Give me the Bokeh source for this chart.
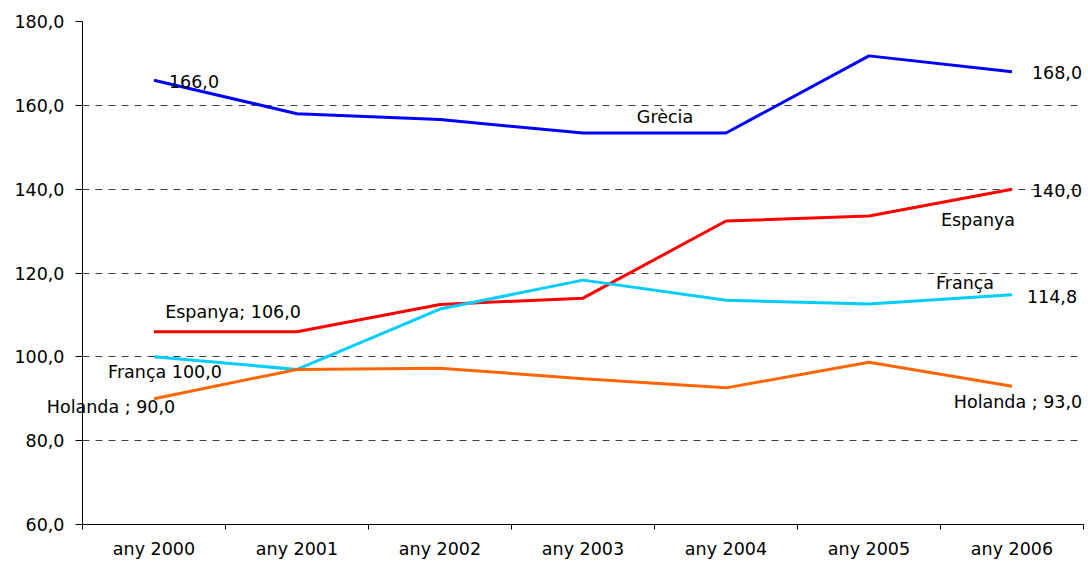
from bokeh.plotting import figure
from bokeh.models import Range1d, FixedTicker
from bokeh.core.properties import value
from bokeh.embed import file_html
from bokeh.resources import INLINE

years = ["any 2000", "any 2001", "any 2002", "any 2003", "any 2004", "any 2005", "any 2006"]
grecia = [166.0, 158.0, 156.6, 153.4, 153.4, 171.8, 168.0]
espanya = [106.0, 106.0, 112.5, 114.0, 132.4, 133.6, 140.0]
franca = [100.0, 97.0, 111.4, 118.3, 113.5, 112.6, 114.8]
holanda = [90.0, 97.0, 97.3, 94.8, 92.6, 98.7, 93.0]
y_ticks = [60, 80, 100, 120, 140, 160, 180]

FONT = "DejaVu Sans"
FS = "17.5px"

xs = [i + 0.5 for i in range(len(years))]

p = figure(width=1088, height=561, output_backend="svg", toolbar_location=None,
           x_range=Range1d(0, len(years)), y_range=Range1d(60, 180),
           min_border_left=82, min_border_right=5, min_border_top=21, min_border_bottom=36)
p.outline_line_color = None
p.background_fill_color = "white"
p.border_fill_color = "white"

# x axis: labels at category centres, tick marks at category boundaries
xa = p.xaxis[0]
xa.ticker = FixedTicker(ticks=xs, minor_ticks=list(range(len(years) + 1)))
xa.major_label_overrides = {x: y for x, y in zip(xs, years)}
xa.major_tick_line_color = None
xa.major_tick_out = 0
xa.major_tick_in = 0
xa.minor_tick_out = 5
xa.minor_tick_in = 0
xa.minor_tick_line_color = "black"
xa.axis_line_color = "black"
xa.major_label_standoff = 9
xa.major_label_text_font = FONT
xa.major_label_text_font_size = FS
xa.major_label_text_color = "black"

ya = p.yaxis[0]
ya.ticker = FixedTicker(ticks=y_ticks)
ya.major_label_overrides = {v: f"{v:.1f}".replace(".", ",") for v in y_ticks}
ya.major_tick_out = 7
ya.major_tick_in = 0
ya.minor_tick_line_color = None
ya.axis_line_color = "black"
ya.major_tick_line_color = "black"
ya.major_label_standoff = 11
ya.major_label_text_font = FONT
ya.major_label_text_font_size = FS
ya.major_label_text_color = "black"

p.xgrid.grid_line_color = None
p.ygrid.grid_line_color = "#404040"
p.ygrid.grid_line_dash = "7 6"
p.ygrid.grid_line_width = 1

series = [(grecia, "#0000FF"), (espanya, "#FF0000"), (franca, "#00CCFF"), (holanda, "#FF6600")]
for vals, col in series:
    p.line(xs, vals, line_color=col, line_width=3)

# data labels: (text, category index, y in data units, x offset in px)
labels = [
    ("166,0", 0, 165.7, 40),
    ("168,0", 6, 167.9, 45),
    ("Grècia", 3, 157.2, 82),
    ("140,0", 6, 139.8, 45),
    ("Espanya", 6, 132.6, -34),
    ("Espanya; 106,0", 0, 110.8, 79),
    ("França", 6, 117.5, -47),
    ("114,8", 6, 114.4, 40),
    ("França 100,0", 0, 96.3, 11),
    ("Holanda ; 90,0", 0, 88.1, -43),
    ("Holanda ; 93,0", 6, 89.2, 6),
]
for txt, i, yv, xo in labels:
    p.text(x=[xs[i]], y=[yv], text=[txt], x_offset=xo, text_font=value(FONT),
           text_font_size=FS, text_color="black", text_baseline="middle",
           text_align="center", level="overlay")

open("out.html", "w").write(file_html(p, INLINE))
